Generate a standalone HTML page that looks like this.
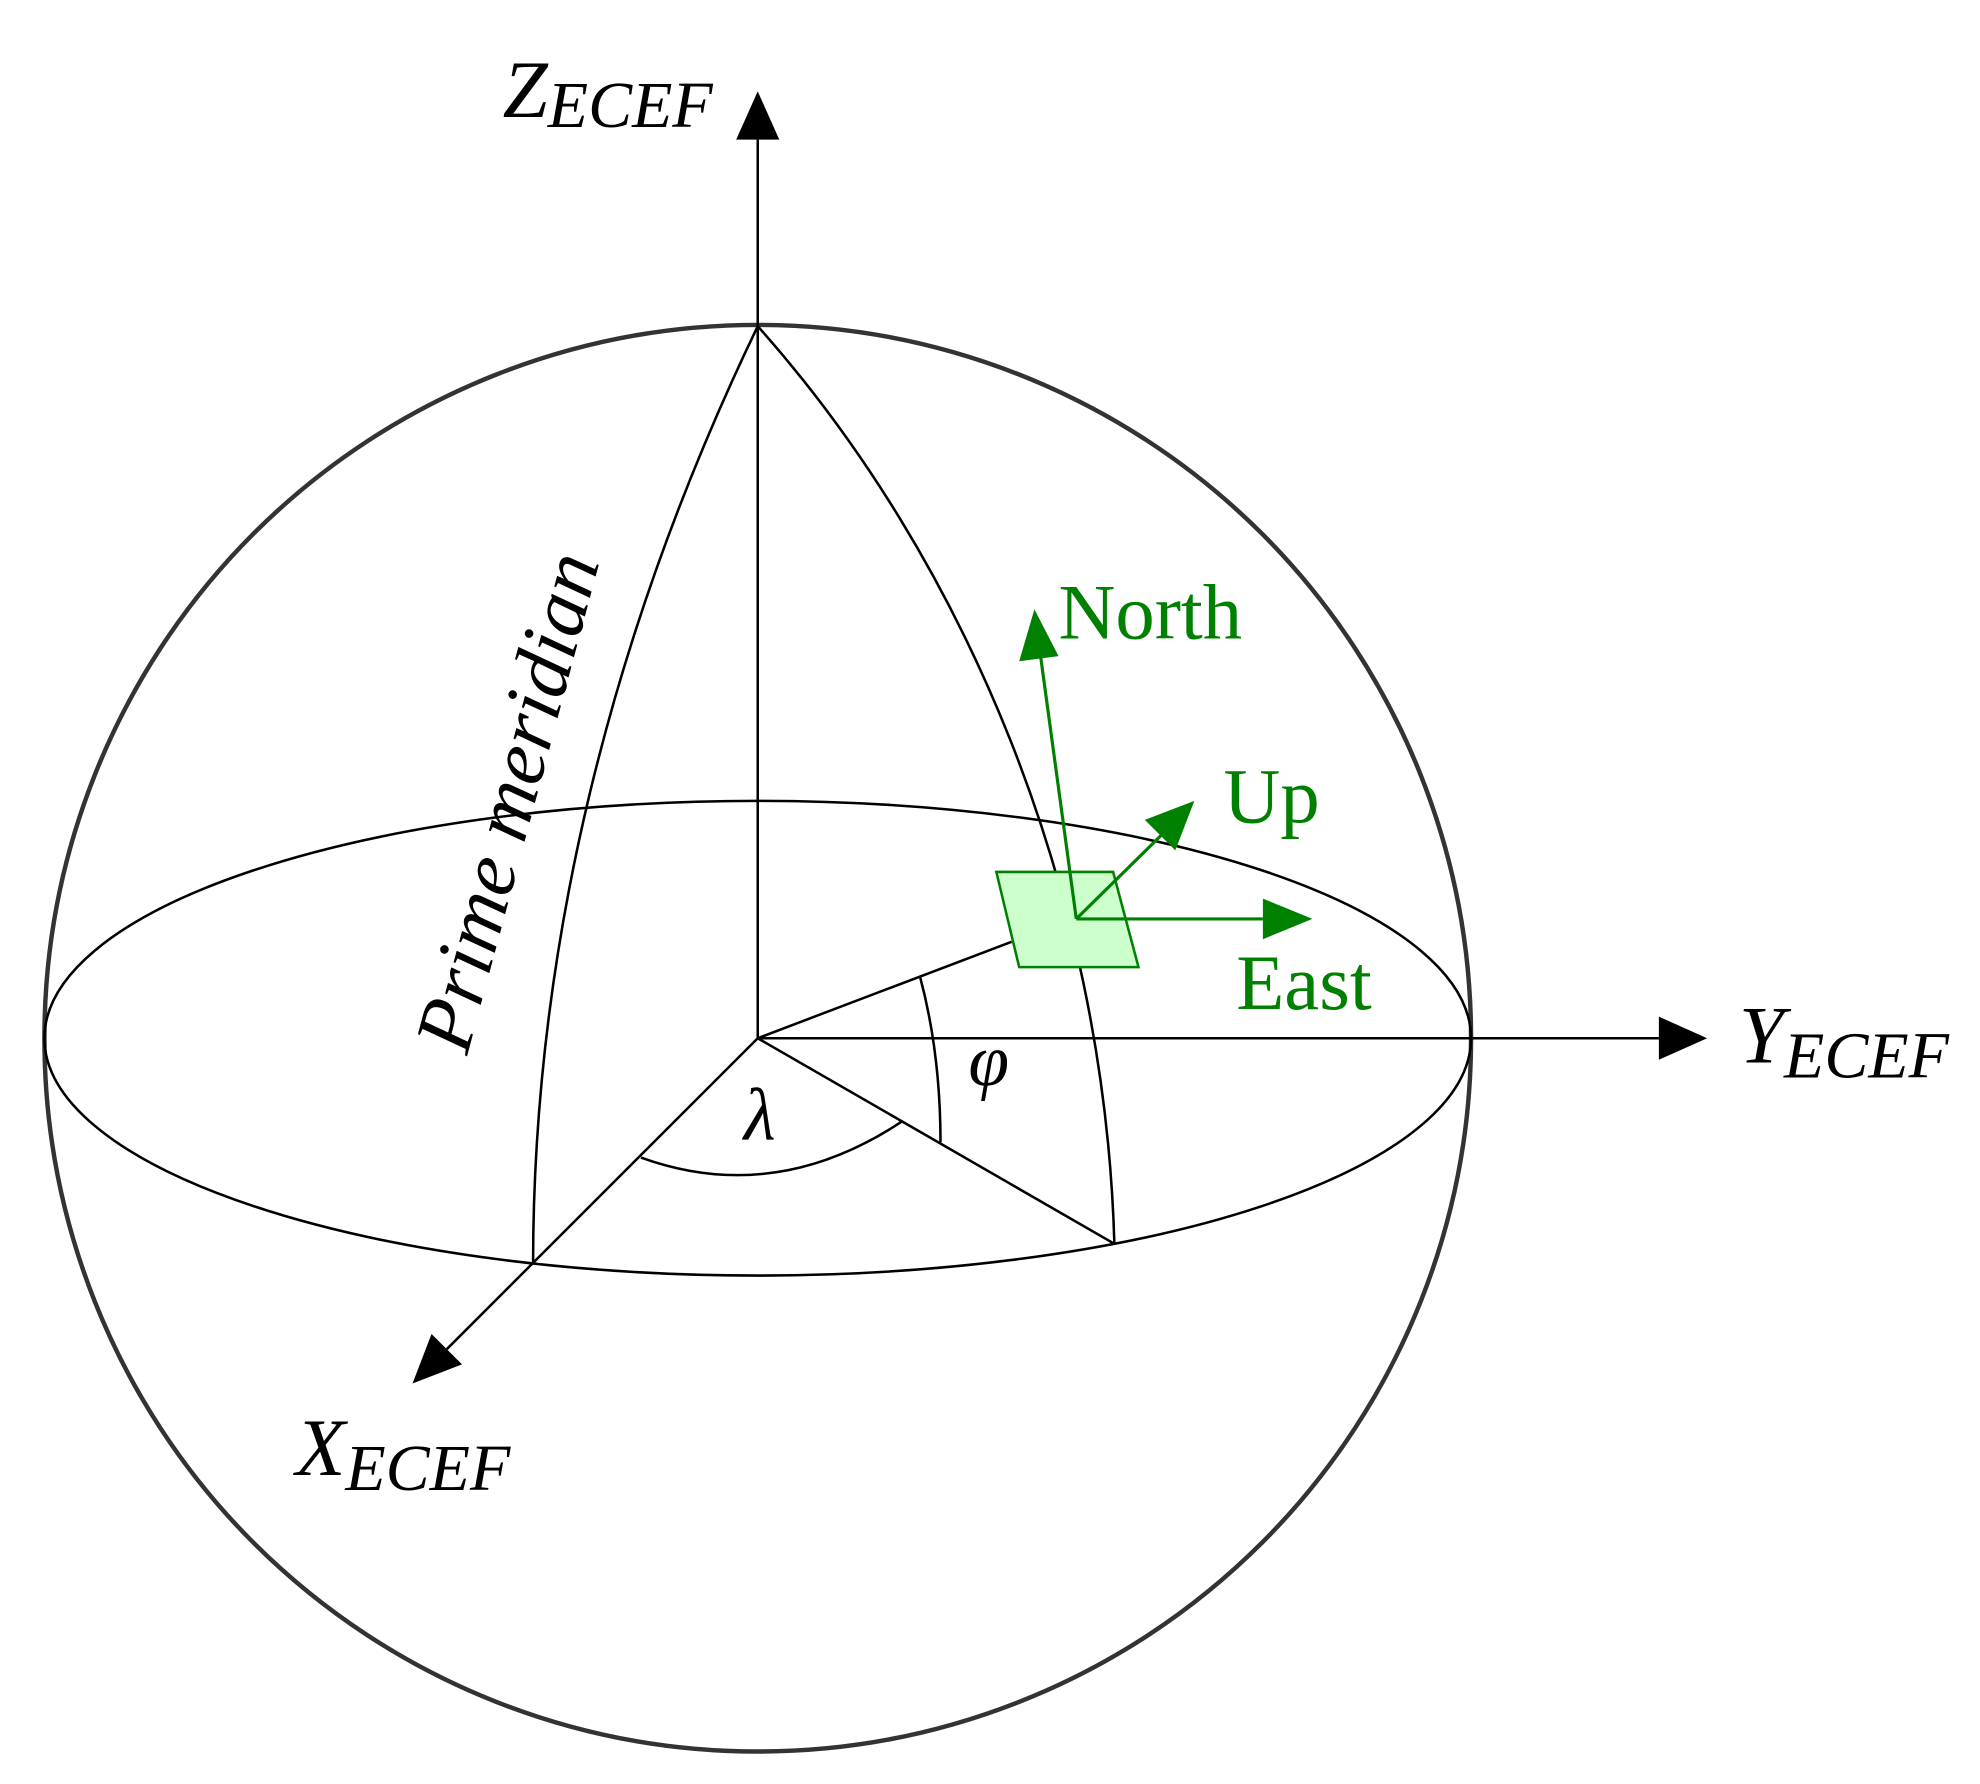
<!DOCTYPE html>
<html><head><meta charset="utf-8"><style>
html,body{margin:0;padding:0;background:#fff;}
svg{display:block;}
text{font-family:"Liberation Serif",serif;}
</style></head><body>
<svg width="1980" height="1784" viewBox="0 0 1560 1405.6" preserveAspectRatio="none" xmlns="http://www.w3.org/2000/svg">
<circle cx="597" cy="818" r="562" fill="none" stroke="#333" stroke-width="3.5"/>
<ellipse cx="597" cy="818" rx="562" ry="187" fill="none" stroke="#000" stroke-width="2"/>
<path d="M597,257 C480,500 420,750 420,996" fill="none" stroke="#000" stroke-width="2"/>
<path d="M597,257 C760,440 870,700 878,980" fill="none" stroke="#000" stroke-width="2"/>
<line x1="597" y1="818" x2="597" y2="110" stroke="#000" stroke-width="2"/>
<path d="M597,72 L614,110 L580,110z" fill="#000"/>
<line x1="597" y1="818" x2="1307" y2="818" stroke="#000" stroke-width="2"/>
<path d="M1345,818 L1307,801 L1307,835z" fill="#000"/>
<line x1="597" y1="818" x2="352" y2="1063" stroke="#000" stroke-width="2"/>
<path d="M325,1090 L340,1051 L364,1075z" fill="#000"/>
<line x1="597" y1="818" x2="878" y2="980" stroke="#000" stroke-width="2"/>
<line x1="597" y1="818" x2="797" y2="742" stroke="#000" stroke-width="2"/>
<path d="M725,770 Q741,830 741,900" fill="none" stroke="#000" stroke-width="2"/>
<path d="M505,912 Q610,950 710,884" fill="none" stroke="#000" stroke-width="2"/>
<path d="M785,687 L877,687 L897,762 L803,762z" fill="#ccffcc" stroke="#008000" stroke-width="2"/>
<line x1="848" y1="724" x2="820" y2="518" stroke="#008000" stroke-width="2.5"/>
<path d="M815,480 L834,517 L803,521z" fill="#008000"/>
<line x1="848" y1="724" x2="915" y2="658" stroke="#008000" stroke-width="2.5"/>
<path d="M941,631 L926,670 L902,646z" fill="#008000"/>
<line x1="848" y1="724" x2="995" y2="724" stroke="#008000" stroke-width="2.5"/>
<path d="M1034,724 L995,708 L995,740z" fill="#008000"/>
<text x="396" y="92" font-size="64" font-style="italic">Z<tspan font-size="52" dy="8">ECEF</tspan></text>
<text x="1370" y="837" font-size="64" font-style="italic">Y<tspan font-size="52" dy="12">ECEF</tspan></text>
<text x="233" y="1162" font-size="64" font-style="italic">X<tspan font-size="52" dy="12">ECEF</tspan></text>
<text x="834" y="503" font-size="62" fill="#008000">North</text>
<text x="964" y="648" font-size="62" fill="#008000">Up</text>
<text x="974" y="795" font-size="62" fill="#008000">East</text>
<text x="763" y="855" font-size="58" font-style="italic">φ</text>
<text x="586" y="898" font-size="58" font-style="italic">λ</text>
<text transform="translate(368,832) rotate(-75)" font-size="64" font-style="italic">Prime meridian</text>
</svg>
</body></html>
